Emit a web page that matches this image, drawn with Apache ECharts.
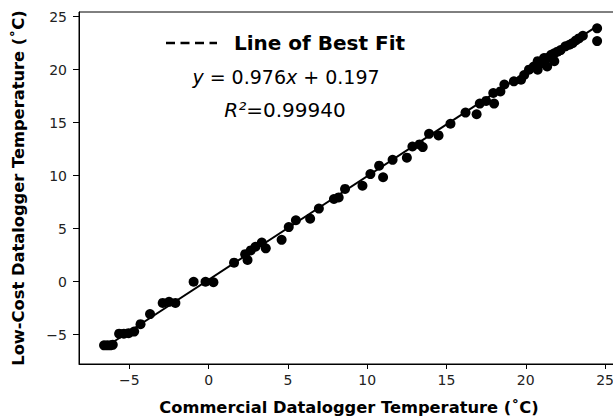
<!DOCTYPE html>
<html>
<head>
<meta charset="utf-8">
<script src="https://cdn.jsdelivr.net/npm/echarts@6/dist/echarts.min.js"></script>
<style>
  html, body { margin: 0; padding: 0; background: #fff; }
  #chart { width: 613px; height: 418px; }
</style>
</head>
<body>
<div id="chart"></div>
<script>
// commercial logger temperature (x) vs low-cost logger temperature (y)
var commercialTemp = [
  -6.6, -6.4, -6.2, -6.05, -5.65, -5.35, -5.05, -4.7, -4.3, -3.7,
  -2.9, -2.5, -2.1, -0.95, -0.2, 0.3, 1.6, 2.3, 2.45, 2.65,
  2.95, 3.35, 3.6, 4.6, 5.05, 5.5, 6.4, 6.95, 7.9, 8.2,
  8.6, 9.7, 10.2, 10.75, 11.0, 11.6, 12.5, 12.85, 13.3, 13.5,
  13.9, 14.5, 15.25, 16.2, 16.9, 17.1, 17.5, 18.0, 17.95, 18.4,
  18.65, 19.25, 19.7, 19.9, 20.2, 20.5, 20.75, 20.95, 21.15, 21.35,
  21.6, 21.8, 22.0, 22.2, 22.5, 22.75, 22.95, 23.15, 23.35, 23.6,
  20.75, 21.35, 21.8, 24.5, 24.5
];
var lowCostTemp = [
  -6.0, -6.0, -6.0, -5.95, -4.9, -4.9, -4.85, -4.7, -4.0, -3.05,
  -2.0, -1.9, -2.0, 0.0, 0.0, -0.05, 1.8, 2.6, 2.05, 2.95,
  3.3, 3.7, 3.15, 3.95, 5.15, 5.8, 5.95, 6.9, 7.8, 7.95,
  8.75, 9.05, 10.15, 10.95, 9.85, 11.5, 11.7, 12.75, 12.95, 12.7,
  13.95, 13.8, 14.9, 15.95, 15.8, 16.8, 17.05, 16.8, 17.8, 17.95,
  18.6, 18.9, 19.05, 19.5, 20.0, 20.3, 20.8, 20.6, 21.1, 21.1,
  21.4, 21.55, 21.7, 21.85, 22.2, 22.35, 22.5, 22.75, 22.95, 23.2,
  20.0, 20.3, 20.8, 23.9, 22.7
];
// best fit line end points
var fitX = [-6.6, 24.5];
var fitY = [-6.25, 24.1];
var xTicks = [-5, 0, 5, 10, 15, 20, 25];
var yTicks = [-5, 0, 5, 10, 15, 20, 25];

var points = [];
for (var i = 0; i < commercialTemp.length; i++) {
  points.push([commercialTemp[i], lowCostTemp[i]]);
}
var fitLine = [];
for (var j = 0; j < fitX.length; j++) {
  fitLine.push([fitX[j], fitY[j]]);
}

function tickFmt(v) {
  return String(v).replace('-', '\u2212');
}

var font = 'DejaVu Sans';
var chart = echarts.init(document.getElementById('chart'), null, { renderer: 'svg' });
chart.setOption({
  animation: false,
  backgroundColor: '#fff',
  grid: {
    left: 79, top: 12, width: 540, height: 352,
    show: true, borderColor: '#000', borderWidth: 1,
    outerBoundsMode: 'none'
  },
  xAxis: {
    type: 'value',
    min: -8.18, max: 25.88,
    name: 'Commercial Datalogger Temperature (˚C)',
    nameLocation: 'middle',
    nameGap: 35,
    nameTextStyle: { fontFamily: font, fontWeight: 'bold', fontSize: 16.3, color: '#000' },
    axisLine: { onZero: false, lineStyle: { color: '#000', width: 1 } },
    axisTick: { customValues: xTicks, length: 5, lineStyle: { color: '#000' } },
    axisLabel: { customValues: xTicks, formatter: tickFmt, margin: 9,
      fontFamily: font, fontSize: 14, color: '#222' },
    splitLine: { show: false }
  },
  yAxis: {
    type: 'value',
    min: -7.76, max: 25.44,
    name: 'Low-Cost Datalogger Temperature (˚C)',
    nameLocation: 'middle',
    nameGap: 53,
    nameTextStyle: { fontFamily: font, fontWeight: 'bold', fontSize: 16.3, color: '#000' },
    axisLine: { onZero: false, lineStyle: { color: '#000', width: 1 } },
    axisTick: { customValues: yTicks, length: 6, lineStyle: { color: '#000' } },
    axisLabel: { customValues: yTicks, formatter: tickFmt, margin: 12,
      fontFamily: font, fontSize: 14, color: '#222' },
    splitLine: { show: false }
  },
  graphic: [
    { type: 'line', shape: { x1: 166, y1: 43, x2: 217, y2: 43 },
      style: { stroke: '#000', lineWidth: 2.5, lineDash: [9, 5.5] } },
    { type: 'text', x: 234, y: 43,
      style: { text: 'Line of Best Fit', fontFamily: font, fontWeight: 'bold',
        fontSize: 20, fill: '#000', verticalAlign: 'middle' } },
    { type: 'text', x: 286, y: 77,
      style: { text: '{i|y} = 0.976{i|x} + 0.197', fontFamily: font, fontSize: 19,
        fill: '#000', align: 'center', verticalAlign: 'middle',
        rich: { i: { fontFamily: font, fontSize: 19, fontStyle: 'italic', fill: '#000' } } } },
    { type: 'text', x: 285, y: 110,
      style: { text: '{i|R²}=0.99940', fontFamily: font, fontSize: 20,
        fill: '#000', align: 'center', verticalAlign: 'middle',
        rich: { i: { fontFamily: font, fontSize: 20, fontStyle: 'italic', fill: '#000' } } } }
  ],
  series: [
    {
      name: 'Line of Best Fit',
      type: 'line',
      data: fitLine,
      symbol: 'none',
      lineStyle: { color: '#000', width: 2 },
      z: 3
    },
    {
      name: 'Data',
      type: 'scatter',
      data: points,
      symbol: 'circle',
      symbolSize: 10,
      itemStyle: { color: '#000', opacity: 1 },
      z: 2
    }
  ]
});
</script>
</body>
</html>
